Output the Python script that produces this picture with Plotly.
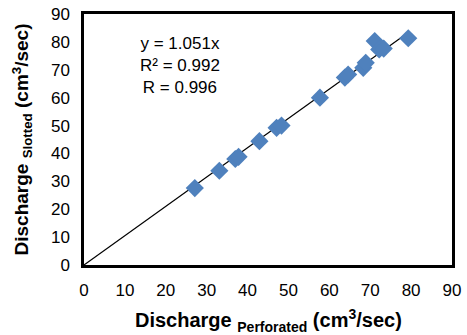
import plotly.graph_objects as go

perforated = [27.1, 33.1, 37.0, 37.8, 42.9, 47.1, 48.3, 57.7, 63.8, 64.6, 68.3, 68.9, 71.1, 72.2, 73.3, 79.3]
slotted = [27.6, 33.8, 38.0, 38.8, 44.4, 49.2, 50.0, 60.0, 67.2, 68.3, 70.7, 72.5, 80.3, 77.3, 77.6, 81.3]
slope = 1.051
fit_x = [0, 79.3]
fit_y = [slope * v for v in fit_x]
x_ticks = [0, 10, 20, 30, 40, 50, 60, 70, 80, 90]
y_ticks = [0, 10, 20, 30, 40, 50, 60, 70, 80, 90]

FONT = "Liberation Sans, Arial"

fig = go.Figure()
fig.add_trace(go.Scatter(x=fit_x, y=fit_y, mode="lines",
                         line=dict(color="black", width=1.2), showlegend=False))
fig.add_trace(go.Scatter(x=perforated, y=slotted, mode="markers",
                         marker=dict(symbol="diamond", size=14, color="#4F81BD"),
                         showlegend=False))

fig.add_annotation(x=23.5, y=83.5, xref="x", yref="y",
                   text="y = 1.051x<br>R² = 0.992<br>R = 0.996",
                   showarrow=False, align="center",
                   font=dict(family=FONT, size=17, color="black"),
                   yanchor="top")

fig.add_annotation(x=0.5, y=0, xref="paper", yref="paper", yshift=-55,
                   text="<b>Discharge <sub>Perforated</sub> (cm<sup>3</sup>/sec)</b>",
                   showarrow=False, yanchor="middle",
                   font=dict(family=FONT, size=20, color="black"))
fig.add_annotation(x=0, y=0.5, xref="paper", yref="paper", xshift=-62,
                   text="<b>Discharge <sub>Slotted</sub> (cm<sup>3</sup>/sec)</b>",
                   showarrow=False, textangle=-90, xanchor="center",
                   font=dict(family=FONT, size=19, color="black"))

axis_common = dict(range=[0, 90], showgrid=False, zeroline=False, automargin=False,
                   showline=True, linecolor="black", linewidth=2.5, mirror=True,
                   ticks="", tickfont=dict(family=FONT, size=17, color="black"))
fig.update_xaxes(tickvals=x_ticks, ticklabelstandoff=8, **axis_common)
fig.update_yaxes(tickvals=y_ticks, ticklabelstandoff=8, **axis_common)

fig.update_layout(width=467, height=335, margin=dict(l=84, r=15, t=14, b=70),
                  plot_bgcolor="white", paper_bgcolor="white")
fig.write_html("out.html", config={"displayModeBar": False},
               post_script="document.body.style.margin='0';document.body.style.overflow='hidden';")
